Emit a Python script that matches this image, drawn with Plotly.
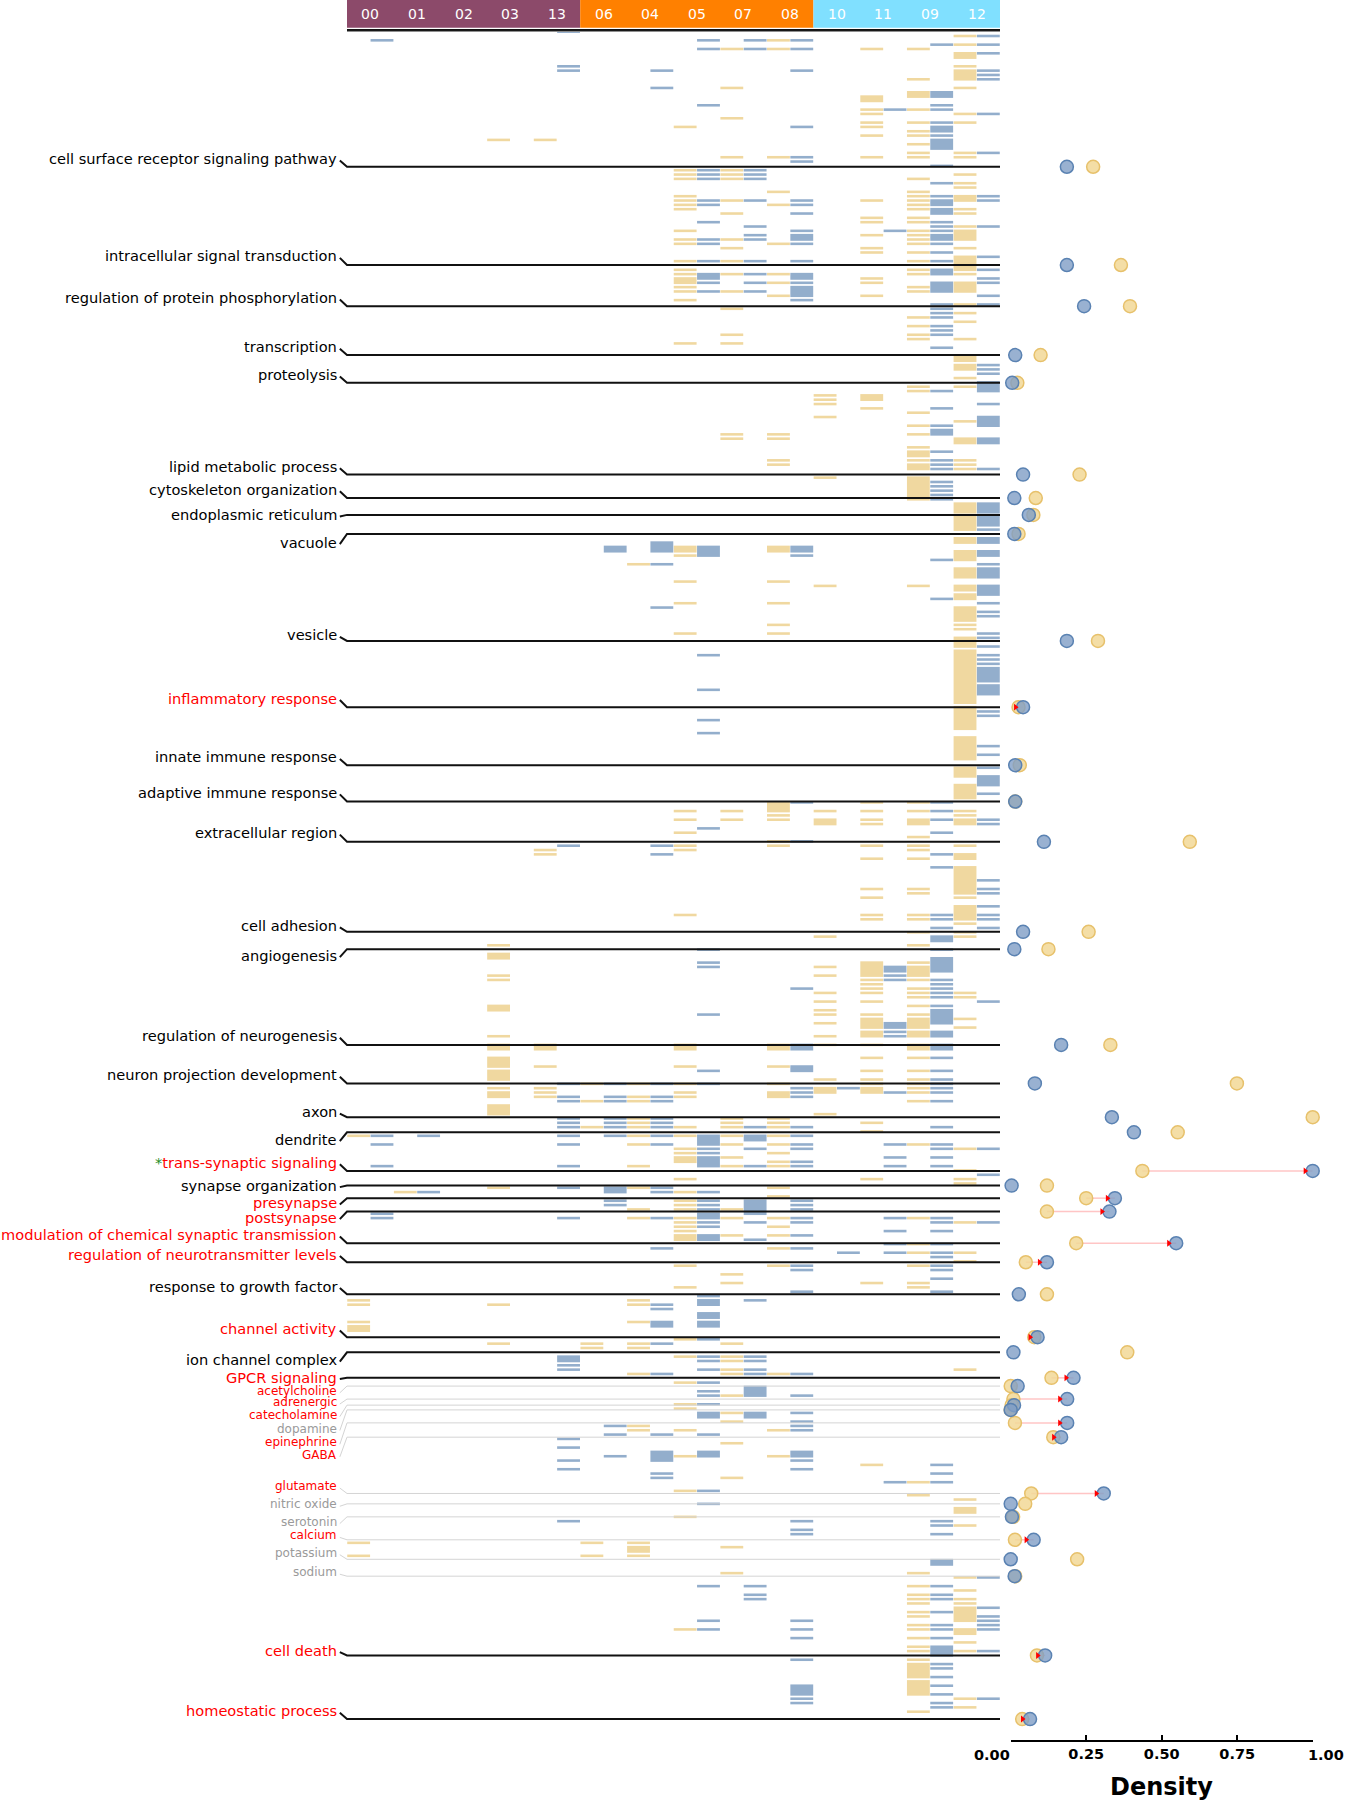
import plotly.graph_objects as go

# ---------------- data ----------------
clusters = ["00", "01", "02", "03", "13", "06", "04", "05", "07", "08", "10", "11", "09", "12"]
cluster_group = [0, 0, 0, 0, 0, 1, 1, 1, 1, 1, 2, 2, 2, 2]

# gene-row runs (start_row, n_rows) per cluster, tan and blue
c00_tan = [(255,1),(293,1),(294,1),(298,1),(299,2),(349,1),(352,1)]
c00_blue = [(2,1),(255,1),(257,1),(262,1),(273,1),(274,1)]
c01_tan = [(268,1)]
c01_blue = [(255,1),(268,1)]
c02_tan = []
c02_blue = []
c03_tan = [(25,1),(211,1),(213,2),(218,1),(219,1),(225,2),(232,1),(234,2),(237,3),(240,3),(244,1),(245,2),(248,3),(267,1),(294,1),(303,1)]
c03_blue = []
c13_tan = [(25,1),(189,1),(190,1),(234,2),(239,1),(244,1),(245,1),(246,1)]
c13_blue = [(0,1),(8,1),(9,1),(188,1),(243,1),(246,1),(247,1),(251,1),(252,1),(253,1),(255,1),(257,1),(262,1),(267,1),(274,1),(306,2),(308,1),(309,1),(325,1),(327,1),(330,1),(332,1),(344,1)]
c06_tan = [(243,1),(247,1),(253,1),(303,1),(304,1),(349,1),(352,1)]
c06_blue = [(119,2),(243,1),(246,1),(247,1),(251,1),(252,1),(253,1),(255,1),(267,2),(270,1),(271,1),(322,1),(324,1),(329,1)]
c04_tan = [(123,1),(243,1),(246,1),(247,1),(251,1),(252,1),(253,1),(255,1),(257,1),(262,1),(267,1),(272,1),(274,1),(293,1),(294,1),(298,1),(303,1),(304,1),(310,1),(322,1),(323,1),(349,1),(350,2),(352,1)]
c04_blue = [(9,1),(13,1),(118,3),(123,1),(133,1),(188,1),(190,1),(243,1),(246,1),(247,1),(251,1),(252,1),(253,1),(255,1),(257,1),(267,1),(268,1),(274,1),(281,1),(294,1),(295,1),(298,2),(303,1),(310,1),(324,1),(328,3),(333,1),(334,1)]
c05_tan = [(22,1),(32,1),(33,1),(34,1),(38,1),(39,1),(40,1),(41,1),(46,1),(48,1),(49,1),(53,1),(55,1),(56,1),(57,2),(59,1),(60,1),(62,1),(72,1),(119,2),(121,1),(127,1),(132,1),(139,1),(180,1),(182,1),(185,1),(188,1),(189,1),(204,1),(234,2),(239,1),(243,1),(245,1),(246,1),(253,1),(255,1),(258,1),(259,1),(260,2),(265,1),(268,1),(270,1),(271,1),(272,1),(274,1),(275,1),(276,1),(277,1),(278,2),(285,1),(290,1),(302,1),(306,1),(312,1),(317,1),(318,1),(323,1),(329,1),(337,1),(343,1),(369,1)]
c05_blue = [(2,1),(4,1),(17,1),(32,1),(33,1),(34,1),(39,1),(40,1),(44,1),(48,1),(49,1),(53,1),(56,2),(58,1),(60,1),(119,3),(144,1),(152,1),(159,1),(162,1),(184,1),(212,1),(215,1),(216,1),(227,1),(240,1),(243,1),(255,3),(258,1),(259,1),(260,3),(268,1),(270,1),(271,1),(272,1),(273,2),(275,1),(276,1),(278,2),(292,1),(293,2),(296,2),(298,2),(302,1),(306,1),(307,1),(309,1),(312,1),(314,1),(315,1),(317,1),(319,2),(324,1),(328,2),(337,1),(340,1),(359,1),(367,1),(369,1)]
c07_tan = [(4,1),(13,1),(20,1),(29,1),(32,1),(33,1),(34,1),(39,1),(42,1),(48,1),(50,1),(53,1),(56,1),(60,1),(64,1),(70,1),(72,1),(93,1),(94,1),(180,1),(182,1),(251,1),(252,1),(253,1),(255,1),(257,1),(260,1),(262,1),(272,1),(274,1),(278,1),(287,1),(289,1),(303,1),(306,1),(307,1),(309,1),(310,1),(315,1),(319,1),(321,1),(326,1),(334,1),(350,1),(356,1)]
c07_blue = [(2,1),(4,1),(32,1),(33,1),(34,1),(39,1),(45,1),(47,1),(48,1),(53,1),(56,1),(58,1),(60,1),(253,1),(255,2),(258,1),(262,1),(270,4),(275,1),(279,1),(293,1),(306,1),(307,1),(309,1),(310,1),(313,3),(319,2),(359,1),(361,1),(362,1)]
c08_tan = [(2,1),(4,1),(29,1),(37,1),(40,1),(49,1),(56,1),(58,1),(61,1),(93,1),(94,1),(99,1),(100,1),(119,2),(127,1),(132,1),(137,1),(139,1),(178,3),(181,1),(182,1),(187,1),(188,1),(234,2),(239,1),(243,1),(245,2),(251,1),(252,1),(253,1),(255,1),(257,1),(259,1),(261,1),(262,1),(267,1),(269,1),(274,1),(276,1),(278,1),(281,1),(285,1),(310,1),(323,1),(329,1)]
c08_blue = [(2,1),(4,1),(9,1),(22,1),(29,1),(30,1),(39,1),(40,1),(42,1),(46,1),(47,2),(49,1),(53,1),(56,2),(58,1),(59,3),(62,1),(119,2),(121,1),(178,1),(187,1),(221,1),(234,2),(239,2),(244,1),(245,1),(246,1),(253,1),(255,1),(257,1),(258,1),(261,1),(262,1),(270,1),(271,1),(272,1),(274,1),(275,1),(278,1),(281,1),(285,1),(286,1),(291,1),(310,1),(315,1),(319,1),(321,1),(322,1),(323,1),(328,2),(330,1),(332,1),(344,1),(346,1),(347,1),(367,1),(369,1),(371,1),(376,1),(382,3),(385,1),(386,1)]
c10_tan = [(84,1),(85,1),(86,1),(89,1),(103,1),(128,1),(180,1),(182,2),(209,1),(216,1),(218,1),(222,1),(224,1),(226,1),(227,1),(229,1),(232,1),(234,1),(242,1),(244,2),(250,1)]
c10_blue = [(244,1),(282,1)]
c11_tan = [(4,1),(15,2),(18,1),(19,1),(21,1),(22,1),(24,1),(29,1),(39,1),(43,1),(44,1),(47,1),(50,1),(51,1),(57,1),(58,1),(61,1),(84,2),(87,1),(178,1),(180,1),(182,1),(183,1),(188,1),(191,1),(198,1),(200,1),(204,1),(205,1),(215,4),(219,1),(220,1),(221,1),(222,1),(224,1),(227,1),(228,3),(231,2),(234,1),(237,1),(240,1),(242,1),(243,1),(244,2),(252,1),(254,1),(265,1),(289,1),(331,1)]
c11_blue = [(18,1),(46,1),(216,2),(218,1),(219,1),(229,2),(231,1),(232,1),(245,1),(257,1),(260,1),(262,1),(274,1),(277,1),(280,1),(282,1),(335,1)]
c09_tan = [(4,1),(11,1),(14,2),(18,1),(21,1),(23,1),(24,1),(26,1),(28,1),(29,1),(34,1),(37,1),(38,1),(39,1),(40,1),(41,1),(43,1),(44,1),(46,1),(47,1),(48,1),(49,1),(51,1),(53,1),(55,1),(56,1),(59,1),(60,1),(66,1),(68,1),(70,1),(71,1),(82,1),(83,1),(88,1),(91,1),(93,1),(96,1),(97,2),(99,1),(100,2),(103,6),(128,1),(178,1),(180,1),(182,2),(186,1),(188,1),(189,1),(191,1),(198,1),(199,1),(204,1),(205,1),(208,1),(211,1),(215,1),(216,3),(219,1),(221,1),(222,1),(223,1),(225,1),(227,1),(228,3),(231,2),(234,2),(237,1),(240,1),(242,1),(243,1),(244,1),(245,1),(247,1),(257,1),(274,1),(280,1),(282,1),(285,1),(289,1),(290,1),(335,1),(338,1),(356,1),(359,1),(361,1),(362,1),(363,1),(365,1),(366,1),(368,1),(369,1),(371,1),(373,1),(374,1),(376,1),(377,4),(381,4),(388,1)]
c09_blue = [(3,1),(14,2),(17,1),(18,1),(21,1),(22,2),(24,1),(25,3),(31,1),(35,1),(38,1),(39,2),(41,2),(44,1),(45,1),(46,1),(47,2),(49,1),(51,1),(53,1),(55,2),(58,3),(63,1),(64,1),(65,1),(66,1),(68,1),(69,1),(70,1),(73,1),(83,1),(87,1),(91,1),(92,2),(97,1),(99,1),(100,1),(101,1),(104,1),(105,1),(106,1),(107,1),(108,1),(122,1),(131,1),(178,1),(180,1),(182,1),(185,1),(190,1),(193,1),(204,1),(205,1),(207,1),(209,2),(212,1),(214,4),(219,1),(220,1),(221,1),(222,1),(223,1),(225,1),(226,4),(231,2),(234,2),(237,1),(240,1),(242,1),(243,1),(244,1),(245,1),(247,1),(253,1),(257,1),(258,1),(260,1),(262,1),(274,1),(275,1),(277,1),(280,1),(282,1),(283,1),(285,1),(286,1),(288,1),(291,1),(331,1),(333,1),(335,1),(344,1),(345,1),(347,1),(353,2),(359,1),(361,1),(362,1),(365,1),(368,1),(369,1),(371,1),(373,3),(377,1),(378,1),(380,1),(382,1),(384,1),(386,1),(387,1)]
c12_tan = [(1,1),(3,1),(5,2),(8,1),(9,3),(13,1),(19,1),(21,1),(28,1),(29,1),(33,1),(35,1),(36,1),(38,2),(41,1),(42,1),(45,1),(46,3),(50,1),(52,4),(56,1),(58,3),(63,1),(65,1),(67,1),(71,1),(75,2),(77,2),(80,1),(82,1),(90,1),(94,2),(99,1),(100,1),(101,1),(109,3),(112,4),(117,2),(120,3),(124,3),(128,2),(130,2),(133,4),(137,1),(138,1),(140,3),(143,13),(156,6),(163,6),(170,3),(174,4),(180,1),(181,1),(182,2),(188,1),(190,2),(193,7),(200,1),(202,4),(206,1),(208,1),(209,1),(222,1),(223,1),(228,1),(230,1),(258,1),(263,1),(265,1),(266,1),(275,1),(282,1),(284,1),(309,1),(339,1),(341,2),(345,1),(357,1),(360,1),(362,1),(363,1),(364,4),(369,2),(372,1),(374,1),(385,1),(387,1)]
c12_blue = [(1,1),(3,1),(5,1),(9,1),(10,1),(11,1),(19,1),(28,1),(38,1),(39,1),(45,1),(52,1),(55,1),(57,1),(58,1),(61,1),(63,1),(77,1),(78,1),(79,1),(81,3),(86,1),(89,3),(94,2),(101,1),(109,3),(112,3),(115,1),(117,2),(120,2),(123,1),(124,3),(128,3),(132,1),(134,1),(135,1),(139,1),(140,1),(142,1),(144,1),(145,1),(146,1),(147,4),(151,3),(157,1),(158,1),(165,1),(167,1),(170,1),(172,3),(176,1),(182,1),(183,1),(196,1),(198,1),(199,1),(202,1),(204,1),(205,1),(207,1),(224,1),(258,1),(264,1),(275,1),(357,1),(364,1),(366,1),(367,1),(368,1),(369,1),(374,1),(385,1)]

tan_runs = [c00_tan, c01_tan, c02_tan, c03_tan, c13_tan, c06_tan, c04_tan, c05_tan, c07_tan, c08_tan, c10_tan, c11_tan, c09_tan, c12_tan]
blue_runs = [c00_blue, c01_blue, c02_blue, c03_blue, c13_blue, c06_blue, c04_blue, c05_blue, c07_blue, c08_blue, c10_blue, c11_blue, c09_blue, c12_blue]

categories = ["cell surface receptor signaling pathway", "intracellular signal transduction",
              "regulation of protein phosphorylation", "transcription", "proteolysis",
              "lipid metabolic process", "cytoskeleton organization", "endoplasmic reticulum",
              "vacuole", "vesicle", "inflammatory response", "innate immune response",
              "adaptive immune response", "extracellular region", "cell adhesion", "angiogenesis",
              "regulation of neurogenesis", "neuron projection development", "axon", "dendrite",
              "trans-synaptic signaling", "synapse organization", "presynapse", "postsynapse",
              "modulation of chemical synaptic transmission", "regulation of neurotransmitter levels",
              "response to growth factor", "channel activity", "ion channel complex", "GPCR signaling",
              "acetylcholine", "adrenergic", "catecholamine", "dopamine", "epinephrine", "GABA",
              "glutamate", "nitric oxide", "serotonin", "calcium", "potassium", "sodium",
              "cell death", "homeostatic process"]
# row at which each category block ends
category_end_row = [31.7, 54.4, 63.9, 75.2, 81.6, 102.8, 108.2, 112.1, 116.5, 141.2, 156.5, 169.9,
                    178.3, 187.6, 208.4, 212.4, 234.5, 243.4, 251.2, 254.7, 263.6, 267.0, 269.9,
                    273.0, 280.3, 284.7, 292.1, 302.0, 305.5, 311.4, 313.3, 316.3, 317.7, 318.8,
                    321.8, 325.1, 338.1, 340.5, 343.5, 348.8, 353.3, 357.2, 375.5, 390.2]
tan_density = [0.273, 0.365, 0.395, 0.099, 0.022, 0.228, 0.083, 0.075, 0.026, 0.289, 0.026, 0.030,
               0.015, 0.593, 0.258, 0.125, 0.330, 0.749, 1.000, 0.553, 0.436, 0.120, 0.250, 0.120,
               0.217, 0.050, 0.120, 0.078, 0.386, 0.135, 0.000, 0.009, 0.003, 0.000, 0.014, 0.141,
               0.068, 0.048, 0.008, 0.014, 0.220, 0.015, 0.087, 0.038]
blue_density = [0.186, 0.186, 0.243, 0.015, 0.005, 0.041, 0.012, 0.060, 0.012, 0.186, 0.041, 0.015,
                0.015, 0.110, 0.041, 0.012, 0.167, 0.080, 0.335, 0.408, 1.000, 0.003, 0.345, 0.327,
                0.548, 0.120, 0.027, 0.089, 0.009, 0.208, 0.023, 0.187, 0.011, 0.000, 0.187, 0.167,
                0.308, 0.000, 0.004, 0.076, 0.000, 0.013, 0.114, 0.064]
# label style: 0 black, 1 red (highlighted, arrow), 2 grey ; sub-level labels for GPCR ligands
label_kind = [0, 0, 0, 0, 0, 0, 0, 0, 0, 0, 1, 0, 0, 0, 0, 0, 0, 0, 0, 0, 1, 0, 1, 1, 1, 1, 0, 1, 0, 1,
              1, 1, 1, 2, 1, 1, 1, 2, 2, 1, 2, 2, 1, 1]
is_sub = [False] * 30 + [True] * 12 + [False] * 2
# label vertical placement (rows)
label_row = [29.8, 52.3, 61.9, 73.3, 79.7, 100.9, 106.2, 112.0, 118.4, 139.8, 154.4, 168.0, 176.2,
             185.5, 206.9, 213.8, 232.4, 241.4, 249.9, 256.3, 261.6, 266.9, 270.9, 274.3, 278.3,
             282.8, 290.2, 300.0, 307.2, 311.2, 314.4, 317.0, 319.9, 323.1, 326.3, 329.2, 336.4,
             340.6, 344.6, 347.8, 351.8, 356.3, 374.3, 388.3]
density_ticks = [0, 0.25, 0.5, 0.75, 1.0]
density_ticktext = ["0.00", "0.25", "0.50", "0.75", "1.00"]

# ---------------- style / geometry ----------------
W, H = 1347, 1800
ROW_PX = 4.33
ROW0_PX = 29.5
PLOT_BOTTOM = 1740
HM_LEFT, HM_RIGHT = 347, 1000
D_LEFT, D_RIGHT = 1010.7, 1312.7
NCOL = 2 * len(clusters)
COL_PX = (HM_RIGHT - HM_LEFT) / NCOL
y_top = -ROW0_PX / ROW_PX
y_bot = (PLOT_BOTTOM - ROW0_PX) / ROW_PX
x_min = -HM_LEFT / COL_PX
LABEL_X = -(HM_LEFT - 337.5) / COL_PX

TAN = "#F0D8A0"
BLUE = "#93AECC"
GROUP_COLORS = ["#8C4A6A", "#FF8000", "#80E0FF"]
FONT = "DejaVu Sans"
KIND_COLORS = ["#000000", "#FF0000", "#9A9A9A"]

fig = go.Figure()

def bar_trace(runs_list, offset, color):
    xs, bases, hs = [], [], []
    for ci, runs in enumerate(runs_list):
        for s, n in runs:
            xs.append(2 * ci + offset)
            bases.append(s + 0.2)
            hs.append(n - 0.4)
    return go.Bar(x=xs, y=hs, base=bases, width=0.98, marker=dict(color=color, line=dict(width=0)),
                  xaxis="x", yaxis="y", hoverinfo="skip", showlegend=False)

fig.add_trace(bar_trace(tan_runs, 0.5, TAN))
fig.add_trace(bar_trace(blue_runs, 1.5, BLUE))

# category lines with connectors
def line_trace(sub):
    lx, ly = [], []
    for i in range(len(categories)):
        if is_sub[i] != sub:
            continue
        lx += [LABEL_X + 0.1, 0, NCOL, None]
        ly += [label_row[i] + 0.45, category_end_row[i], category_end_row[i], None]
    return lx, ly

lx, ly = line_trace(True)
fig.add_trace(go.Scatter(x=lx, y=ly, mode="lines", line=dict(color="#D4D4D4", width=1),
                         xaxis="x", yaxis="y", hoverinfo="skip", showlegend=False))
lx, ly = line_trace(False)
fig.add_trace(go.Scatter(x=lx, y=ly, mode="lines", line=dict(color="#111111", width=2),
                         xaxis="x", yaxis="y", hoverinfo="skip", showlegend=False))
# header underline (double)
fig.add_trace(go.Scatter(x=[0, NCOL], y=[0.12, 0.12], mode="lines", line=dict(color="#111111", width=2),
                         xaxis="x", yaxis="y", hoverinfo="skip", showlegend=False))
fig.add_trace(go.Scatter(x=[0, NCOL], y=[0.45, 0.45], mode="lines", line=dict(color="#888888", width=1),
                         xaxis="x", yaxis="y", hoverinfo="skip", showlegend=False))

# density arrows
ax_, ay_ = [], []
hx, hy = [], []
unit_per_px = 1.0 / (D_RIGHT - D_LEFT)
for i in range(len(categories)):
    if label_kind[i] == 1:
        ax_ += [tan_density[i], blue_density[i], None]
        ay_ += [category_end_row[i], category_end_row[i], None]
        hx.append(blue_density[i] - 7.5 * unit_per_px)
        hy.append(category_end_row[i])
fig.add_trace(go.Scatter(x=ax_, y=ay_, mode="lines", line=dict(color="rgba(255,90,90,0.35)", width=1.5),
                         xaxis="x2", yaxis="y", hoverinfo="skip", showlegend=False))
fig.add_trace(go.Scatter(x=tan_density, y=category_end_row, mode="markers",
                         marker=dict(size=13, color="rgba(242,216,150,0.85)", line=dict(color="#E7C16B", width=1.5)),
                         xaxis="x2", yaxis="y", cliponaxis=False, hoverinfo="skip", showlegend=False))
fig.add_trace(go.Scatter(x=blue_density, y=category_end_row, mode="markers",
                         marker=dict(size=13, color="rgba(128,158,198,0.8)", line=dict(color="#5A82B2", width=1.5)),
                         xaxis="x2", yaxis="y", cliponaxis=False, hoverinfo="skip", showlegend=False))
fig.add_trace(go.Scatter(x=hx, y=hy, mode="markers",
                         marker=dict(size=6, symbol="triangle-right", color="#FF0000", line=dict(width=0)),
                         xaxis="x2", yaxis="y", cliponaxis=False, hoverinfo="skip", showlegend=False))

# header boxes and labels
shapes = []
annotations = []
for g in range(3):
    idx = [i for i, cg in enumerate(cluster_group) if cg == g]
    shapes.append(dict(type="rect", xref="x", yref="y", x0=2 * min(idx), x1=2 * (max(idx) + 1),
                       y0=y_top, y1=-0.42, fillcolor=GROUP_COLORS[g], line=dict(width=0), layer="above"))
for i, c in enumerate(clusters):
    annotations.append(dict(x=2 * i + 1, y=-3.58, xref="x", yref="y", text=c, showarrow=False,
                            font=dict(family=FONT, size=14, color="white"), xanchor="center", yanchor="middle"))

# category labels
for i, name in enumerate(categories):
    txt = name
    if name == "trans-synaptic signaling":
        txt = '<span style="color:#1E8C1E">*</span>' + name
    annotations.append(dict(x=LABEL_X, y=label_row[i], xref="x", yref="y", text=txt, showarrow=False,
                            xanchor="right", yanchor="middle", borderpad=0,
                            font=dict(family=FONT, size=12 if is_sub[i] else 14.6,
                                      color=KIND_COLORS[label_kind[i]])))

# end tick labels of the density axis sit slightly outside the axis ends
annotations.append(dict(x=density_ticks[0], y=0, xref="x2", yref="paper", text="<b>%s</b>" % density_ticktext[0],
                        showarrow=False, xanchor="center", yanchor="middle", yshift=-15, xshift=-19,
                        font=dict(family=FONT, size=14.5, color="black")))
annotations.append(dict(x=density_ticks[-1], y=0, xref="x2", yref="paper", text="<b>%s</b>" % density_ticktext[-1],
                        showarrow=False, xanchor="center", yanchor="middle", yshift=-15, xshift=13,
                        font=dict(family=FONT, size=14.5, color="black")))
annotations.append(dict(x=0.5, y=0, xref="x2", yref="paper", text="<b>Density</b>", showarrow=False,
                        xanchor="center", yanchor="middle", yshift=-47,
                        font=dict(family=FONT, size=24, color="black")))

mid_text = [""] + ["<b>%s</b>" % t for t in density_ticktext[1:-1]] + [""]

fig.update_layout(
    width=W, height=H, margin=dict(l=0, r=0, t=0, b=H - PLOT_BOTTOM),
    paper_bgcolor="white", plot_bgcolor="rgba(0,0,0,0)",
    barmode="overlay", showlegend=False,
    xaxis=dict(domain=[0, HM_RIGHT / W], range=[x_min, NCOL], visible=False, fixedrange=True),
    xaxis2=dict(domain=[D_LEFT / W, D_RIGHT / W], range=[0, 1], anchor="y",
                showline=True, linecolor="black", linewidth=2, ticks="inside", ticklen=5,
                tickwidth=2, tickcolor="black", tickvals=density_ticks, ticktext=mid_text,
                tickfont=dict(family=FONT, size=14.5, color="black"),
                showgrid=False, zeroline=False, fixedrange=True),
    yaxis=dict(domain=[0, 1], range=[y_bot, y_top], visible=False, fixedrange=True),
    shapes=shapes, annotations=annotations,
)

fig.write_html("out.html", config={"displayModeBar": False},
               post_script="document.body.style.margin='0px';document.body.style.padding='0px';"
                           "document.documentElement.style.overflow='hidden';")
